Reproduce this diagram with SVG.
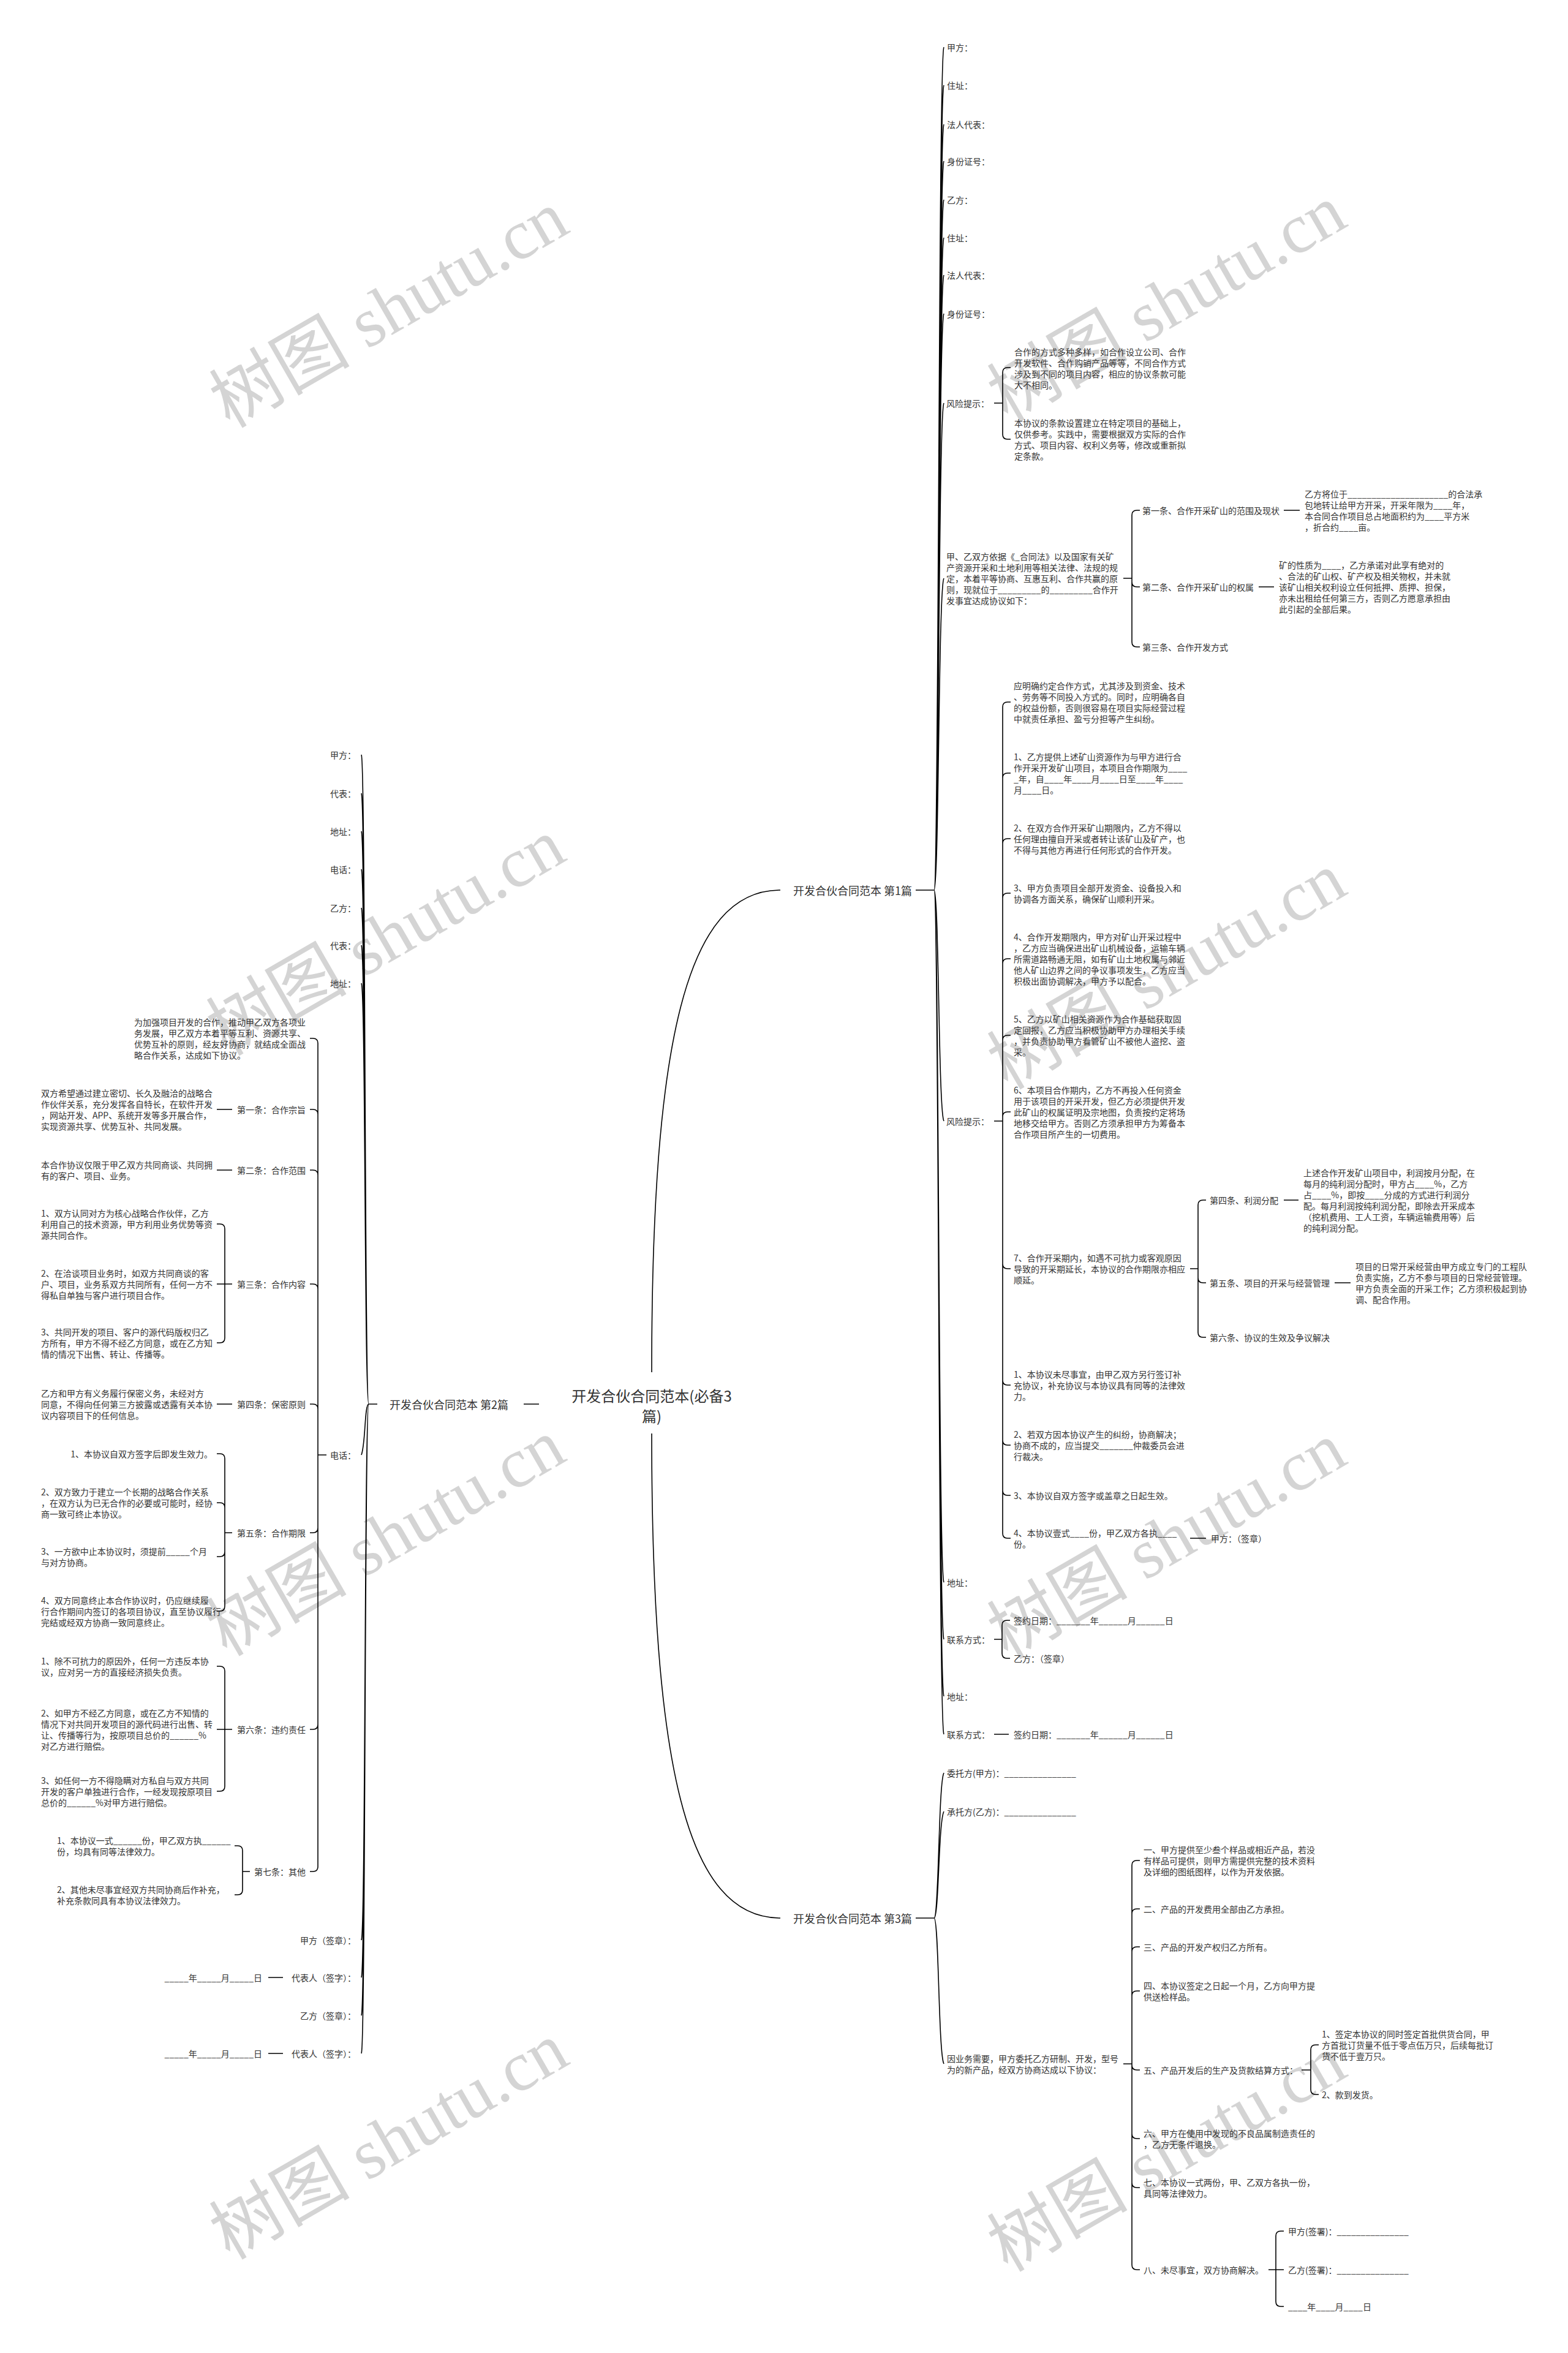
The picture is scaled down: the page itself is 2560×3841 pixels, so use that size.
<svg xmlns="http://www.w3.org/2000/svg" width="2560" height="3841" viewBox="0 0 2560 3841">
<style>
text{font-family:"Noto Sans CJK SC","Noto Sans",sans-serif;font-size:14px;fill:#333;dominant-baseline:central}
tspan{dominant-baseline:central}
.b{font-size:18px}
.r{font-size:24px}
.e{text-anchor:end}
.m{text-anchor:middle}
.c{fill:none;stroke:#000;stroke-width:1.6}
.w{font-family:"Liberation Serif","Noto Sans CJK SC",serif;font-size:115px;fill:#d4d4d4;dominant-baseline:alphabetic}
</style>
<rect width="2560" height="3841" fill="#fff"/>
<g id="watermarks">
<text class="w" x="375" y="700" transform="rotate(-30 375 700)">树图 shutu.cn</text>
<text class="w" x="370" y="1725" transform="rotate(-30 370 1725)">树图 shutu.cn</text>
<text class="w" x="370" y="2705" transform="rotate(-30 370 2705)">树图 shutu.cn</text>
<text class="w" x="375" y="3690" transform="rotate(-30 375 3690)">树图 shutu.cn</text>
<text class="w" x="1645" y="690" transform="rotate(-30 1645 690)">树图 shutu.cn</text>
<text class="w" x="1645" y="1780" transform="rotate(-30 1645 1780)">树图 shutu.cn</text>
<text class="w" x="1645" y="2710" transform="rotate(-30 1645 2710)">树图 shutu.cn</text>
<text class="w" x="1645" y="3710" transform="rotate(-30 1645 3710)">树图 shutu.cn</text>
</g>
<g id="connectors">
<path class="c" d="M855 2292H880M1064 2240C1064 1700 1120 1453 1274 1453M1064 2340C1064 2880 1120 3131 1274 3131"/>
<path class="c" d="M1495 1453H1525M1525 1453C1533 1453 1532 95 1541 77M1525 1453C1533 1453 1532 157 1541 139M1525 1453C1533 1453 1532 221 1541 203M1525 1453C1533 1453 1532 281 1541 263M1525 1453C1533 1453 1532 344 1541 326M1525 1453C1533 1453 1532 406 1541 388M1525 1453C1533 1453 1532 467 1541 449M1525 1453C1533 1453 1532 530 1541 512M1525 1453C1533 1453 1532 676 1541 658M1525 1453C1533 1453 1532 962 1541 944M1525 1453C1533 1453 1532 1812 1541 1830M1525 1453C1533 1453 1532 2565 1541 2583M1525 1453C1533 1453 1532 2658 1541 2676M1525 1453C1533 1453 1532 2751 1541 2769M1525 1453C1533 1453 1532 2813 1541 2831"/>
<path class="c" d="M1495 3131H1525M1525 3131C1533 3131 1532 2912 1541 2894M1525 3131C1533 3131 1532 2975 1541 2957M1525 3131C1533 3131 1532 3351 1541 3369"/>
<path class="c" d="M616 2292H602M602 2292C595 2292 597 1250 590 1232M602 2292C595 2292 597 1313 590 1295M602 2292C595 2292 597 1375 590 1357M602 2292C595 2292 597 1437 590 1419M602 2292C595 2292 597 1500 590 1482M602 2292C595 2292 597 1561 590 1543M602 2292C595 2292 597 1623 590 1605M602 2292C595 2292 597 2357 590 2375M602 2292C595 2292 597 3149 590 3167M602 2292C595 2292 597 3210 590 3228M602 2292C595 2292 597 3272 590 3290M602 2292C595 2292 597 3334 590 3352"/>
<path class="c" d="M1623 658H1637M1637 658V608Q1637 600 1645 600H1650M1637 658V709Q1637 717 1645 717H1650"/>
<path class="c" d="M1834 944H1848M1848 944V841Q1848 833 1856 833H1861M1848 944V950Q1848 958 1856 958H1861M1848 944V1048Q1848 1056 1856 1056H1861M2096 833H2122M2055 958H2080"/>
<path class="c" d="M1623 1830H1637M1637 1830V1154Q1637 1146 1645 1146H1650M1637 1830V1270Q1637 1262 1645 1262H1650M1637 1830V1377Q1637 1369 1645 1369H1650M1637 1830V1466Q1637 1458 1645 1458H1650M1637 1830V1573Q1637 1565 1645 1565H1650M1637 1830V1698Q1637 1690 1645 1690H1650M1637 1830V1823Q1637 1815 1645 1815H1650M1637 1830V2063Q1637 2071 1645 2071H1650M1637 1830V2253Q1637 2261 1645 2261H1650M1637 1830V2351Q1637 2359 1645 2359H1650M1637 1830V2433Q1637 2441 1645 2441H1650M1637 1830V2503Q1637 2511 1645 2511H1650"/>
<path class="c" d="M1943 2071H1956M1956 2071V1967Q1956 1959 1964 1959H1969M1956 2071V2086Q1956 2094 1964 2094H1969M1956 2071V2175Q1956 2183 1964 2183H1969M2096 1959H2120M2179 2094H2205M1943 2511H1969"/>
<path class="c" d="M1623 2676H1636M1636 2676V2653Q1636 2645 1644 2645H1649M1636 2676V2699Q1636 2707 1644 2707H1649M1623 2831H1647"/>
<path class="c" d="M1834 3369H1848M1848 3369V3045Q1848 3037 1856 3037H1861M1848 3369V3124Q1848 3116 1856 3116H1861M1848 3369V3186Q1848 3178 1856 3178H1861M1848 3369V3258Q1848 3250 1856 3250H1861M1848 3369V3371Q1848 3379 1856 3379H1861M1848 3369V3483Q1848 3491 1856 3491H1861M1848 3369V3563Q1848 3571 1856 3571H1861M1848 3369V3697Q1848 3705 1856 3705H1861"/>
<path class="c" d="M2125 3379H2140M2140 3379V3346Q2140 3338 2148 3338H2153M2140 3379V3411Q2140 3419 2148 3419H2153M2071 3705H2096M2083 3705V3650Q2083 3642 2091 3642H2096M2083 3705V3757Q2083 3765 2091 3765H2096"/>
<path class="c" d="M533 2375H519M519 2375V1703Q519 1695 511 1695H506M519 2375V1819Q519 1811 511 1811H506M519 2375V1918Q519 1910 511 1910H506M519 2375V2104Q519 2096 511 2096H506M519 2375V2300Q519 2292 511 2292H506M519 2375V2494Q519 2502 511 2502H506M519 2375V2815Q519 2823 511 2823H506M519 2375V3047Q519 3055 511 3055H506"/>
<path class="c" d="M379 1811H354M379 1910H354M379 2292H354M379 2096H354M367 2096V2006Q367 1998 359 1998H354M367 2096V2184Q367 2192 359 2192H354"/>
<path class="c" d="M379 2502H367M367 2502V2381Q367 2373 359 2373H354M367 2502V2461Q367 2453 359 2453H354M367 2502V2533Q367 2541 359 2541H354M367 2502V2622Q367 2630 359 2630H354"/>
<path class="c" d="M379 2823H354M367 2823V2728Q367 2720 359 2720H354M367 2823V2916Q367 2924 359 2924H354"/>
<path class="c" d="M408 3055H396M396 3055V3021Q396 3013 388 3013H383M396 3055V3085Q396 3093 388 3093H383M462 3228H438M462 3352H438"/>
</g>
<g id="root"><text class="r m" x="1064"><tspan x="1064" y="2277">开发合伙合同范本(必备3</tspan><tspan x="1064" y="2310">篇)</tspan></text></g>
<g id="b1"><text class="b" x="1295" y="1453">开发合伙合同范本 第1篇</text></g>
<g id="b2"><text class="b" x="636" y="2292">开发合伙合同范本 第2篇</text></g>
<g id="b3"><text class="b" x="1295" y="3131">开发合伙合同范本 第3篇</text></g>
<g id="p1-parties">
<text x="1546" y="77">甲方：</text>
<text x="1546" y="139">住址：</text>
<text x="1546" y="203">法人代表：</text>
<text x="1546" y="263">身份证号：</text>
<text x="1546" y="326">乙方：</text>
<text x="1546" y="388">住址：</text>
<text x="1546" y="449">法人代表：</text>
<text x="1546" y="512">身份证号：</text>
</g>
<g id="p1-risk1">
<text x="1545" y="658">风险提示：</text>
<text><tspan x="1656" y="574">合作的方式多种多样，如合作设立公司、合作</tspan><tspan x="1656" y="592">开发软件、合作购销产品等等，不同合作方式</tspan><tspan x="1656" y="610">涉及到不同的项目内容，相应的协议条款可能</tspan><tspan x="1656" y="628">大不相同。</tspan></text>
<text><tspan x="1656" y="690">本协议的条款设置建立在特定项目的基础上，</tspan><tspan x="1656" y="708">仅供参考。实践中，需要根据双方实际的合作</tspan><tspan x="1656" y="726">方式、项目内容、权利义务等，修改或重新拟</tspan><tspan x="1656" y="744">定条款。</tspan></text>
</g>
<g id="p1-intro">
<text><tspan x="1545" y="908">甲、乙双方依据《_合同法》以及国家有关矿</tspan><tspan x="1545" y="926">产资源开采和土地利用等相关法律、法规的规</tspan><tspan x="1545" y="944">定，本着平等协商、互惠互利、合作共赢的原</tspan><tspan x="1545" y="962">则，现就位于_________的_________合作开</tspan><tspan x="1545" y="980">发事宜达成协议如下：</tspan></text>
<text x="1865" y="833">第一条、合作开采矿山的范围及现状</text>
<text><tspan x="2130" y="806">乙方将位于_____________________的合法承</tspan><tspan x="2130" y="824">包地转让给甲方开采，开采年限为____年，</tspan><tspan x="2130" y="842">本合同合作项目总占地面积约为____平方米</tspan><tspan x="2130" y="860">，折合约____亩。</tspan></text>
<text x="1865" y="958">第二条、合作开采矿山的权属</text>
<text><tspan x="2088" y="922">矿的性质为____，乙方承诺对此享有绝对的</tspan><tspan x="2088" y="940">、合法的矿山权、矿产权及相关物权，并未就</tspan><tspan x="2088" y="958">该矿山相关权利设立任何抵押、质押、担保，</tspan><tspan x="2088" y="976">亦未出租给任何第三方，否则乙方愿意承担由</tspan><tspan x="2088" y="994">此引起的全部后果。</tspan></text>
<text x="1865" y="1056">第三条、合作开发方式</text>
</g>
<g id="p1-risk2">
<text x="1545" y="1830">风险提示：</text>
<text><tspan x="1655" y="1119">应明确约定合作方式，尤其涉及到资金、技术</tspan><tspan x="1655" y="1137">、劳务等不同投入方式的。同时，应明确各自</tspan><tspan x="1655" y="1155">的权益份额，否则很容易在项目实际经营过程</tspan><tspan x="1655" y="1173">中就责任承担、盈亏分担等产生纠纷。</tspan></text>
<text><tspan x="1655" y="1235">1、乙方提供上述矿山资源作为与甲方进行合</tspan><tspan x="1655" y="1253">作开采开发矿山项目，本项目合作期限为____</tspan><tspan x="1655" y="1271">_年，自____年____月____日至____年____</tspan><tspan x="1655" y="1289">月____日。</tspan></text>
<text><tspan x="1655" y="1351">2、在双方合作开采矿山期限内，乙方不得以</tspan><tspan x="1655" y="1369">任何理由擅自开采或者转让该矿山及矿产，也</tspan><tspan x="1655" y="1387">不得与其他方再进行任何形式的合作开发。</tspan></text>
<text><tspan x="1655" y="1449">3、甲方负责项目全部开发资金、设备投入和</tspan><tspan x="1655" y="1467">协调各方面关系，确保矿山顺利开采。</tspan></text>
<text><tspan x="1655" y="1529">4、合作开发期限内，甲方对矿山开采过程中</tspan><tspan x="1655" y="1547">，乙方应当确保进出矿山机械设备，运输车辆</tspan><tspan x="1655" y="1565">所需道路畅通无阻，如有矿山土地权属与邻近</tspan><tspan x="1655" y="1583">他人矿山边界之间的争议事项发生，乙方应当</tspan><tspan x="1655" y="1601">积极出面协调解决，甲方予以配合。</tspan></text>
<text><tspan x="1655" y="1663">5、乙方以矿山相关资源作为合作基础获取固</tspan><tspan x="1655" y="1681">定回报，乙方应当积极协助甲方办理相关手续</tspan><tspan x="1655" y="1699">，并负责协助甲方看管矿山不被他人盗挖、盗</tspan><tspan x="1655" y="1717">采。</tspan></text>
<text><tspan x="1655" y="1779">6、本项目合作期内，乙方不再投入任何资金</tspan><tspan x="1655" y="1797">用于该项目的开采开发，但乙方必须提供开发</tspan><tspan x="1655" y="1815">此矿山的权属证明及宗地图，负责按约定将场</tspan><tspan x="1655" y="1833">地移交给甲方。否则乙方须承担甲方为筹备本</tspan><tspan x="1655" y="1851">合作项目所产生的一切费用。</tspan></text>
<text><tspan x="1655" y="2053">7、合作开采期内，如遇不可抗力或客观原因</tspan><tspan x="1655" y="2071">导致的开采期延长，本协议的合作期限亦相应</tspan><tspan x="1655" y="2089">顺延。</tspan></text>
<text x="1975" y="1959">第四条、利润分配</text>
<text><tspan x="2128" y="1914">上述合作开发矿山项目中，利润按月分配，在</tspan><tspan x="2128" y="1932">每月的纯利润分配时，甲方占____%，乙方</tspan><tspan x="2128" y="1950">占____%，即按____分成的方式进行利润分</tspan><tspan x="2128" y="1968">配。每月利润按纯利润分配，即除去开采成本</tspan><tspan x="2128" y="1986">（挖机费用、工人工资，车辆运输费用等）后</tspan><tspan x="2128" y="2004">的纯利润分配。</tspan></text>
<text x="1975" y="2094">第五条、项目的开采与经营管理</text>
<text><tspan x="2213" y="2067">项目的日常开采经营由甲方成立专门的工程队</tspan><tspan x="2213" y="2085">负责实施，乙方不参与项目的日常经营管理。</tspan><tspan x="2213" y="2103">甲方负责全面的开采工作；乙方须积极起到协</tspan><tspan x="2213" y="2121">调、配合作用。</tspan></text>
<text x="1975" y="2183">第六条、协议的生效及争议解决</text>
<text><tspan x="1655" y="2243">1、本协议未尽事宜，由甲乙双方另行签订补</tspan><tspan x="1655" y="2261">充协议，补充协议与本协议具有同等的法律效</tspan><tspan x="1655" y="2279">力。</tspan></text>
<text><tspan x="1655" y="2341">2、若双方因本协议产生的纠纷，协商解决；</tspan><tspan x="1655" y="2359">协商不成的，应当提交_______仲裁委员会进</tspan><tspan x="1655" y="2377">行裁决。</tspan></text>
<text x="1655" y="2441">3、本协议自双方签字或盖章之日起生效。</text>
<text><tspan x="1655" y="2502">4、本协议壹式____份，甲乙双方各执____</tspan><tspan x="1655" y="2520">份。</tspan></text>
<text x="1977" y="2511">甲方：（签章）</text>
</g>
<g id="p1-contact">
<text x="1546" y="2583">地址：</text>
<text x="1546" y="2676">联系方式：</text>
<text x="1655" y="2645">签约日期：_______年______月______日</text>
<text x="1655" y="2707">乙方：（签章）</text>
<text x="1546" y="2769">地址：</text>
<text x="1546" y="2831">联系方式：</text>
<text x="1655" y="2831">签约日期：_______年______月______日</text>
</g>
<g id="p3">
<text x="1546" y="2894">委托方(甲方)：_______________</text>
<text x="1546" y="2957">承托方(乙方)：_______________</text>
<text><tspan x="1546" y="3360">因业务需要，甲方委托乙方研制、开发，型号</tspan><tspan x="1546" y="3378">为的新产品，经双方协商达成以下协议：</tspan></text>
<text><tspan x="1867" y="3019">一、甲方提供至少叁个样品或相近产品，若没</tspan><tspan x="1867" y="3037">有样品可提供，则甲方需提供完整的技术资料</tspan><tspan x="1867" y="3055">及详细的图纸图样，以作为开发依据。</tspan></text>
<text x="1867" y="3116">二、产品的开发费用全部由乙方承担。</text>
<text x="1867" y="3178">三、产品的开发产权归乙方所有。</text>
<text><tspan x="1867" y="3241">四、本协议签定之日起一个月，乙方向甲方提</tspan><tspan x="1867" y="3259">供送检样品。</tspan></text>
<text x="1867" y="3379">五、产品开发后的生产及货款结算方式：</text>
<text><tspan x="2158" y="3320">1、签定本协议的同时签定首批供货合同，甲</tspan><tspan x="2158" y="3338">方首批订货量不低于零点伍万只，后续每批订</tspan><tspan x="2158" y="3356">货不低于壹万只。</tspan></text>
<text x="2158" y="3419">2、款到发货。</text>
<text><tspan x="1867" y="3482">六、甲方在使用中发现的不良品属制造责任的</tspan><tspan x="1867" y="3500">，乙方无条件退换。</tspan></text>
<text><tspan x="1867" y="3562">七、本协议一式两份，甲、乙双方各执一份，</tspan><tspan x="1867" y="3580">具同等法律效力。</tspan></text>
<text x="1867" y="3705">八、未尽事宜，双方协商解决。</text>
<text x="2103" y="3642">甲方(签署)：_______________</text>
<text x="2103" y="3705">乙方(签署)：_______________</text>
<text x="2103" y="3765">____年____月____日</text>
</g>
<g id="p2-parties">
<text class="e" x="581" y="1232">甲方：</text>
<text class="e" x="581" y="1295">代表：</text>
<text class="e" x="581" y="1357">地址：</text>
<text class="e" x="581" y="1419">电话：</text>
<text class="e" x="581" y="1482">乙方：</text>
<text class="e" x="581" y="1543">代表：</text>
<text class="e" x="581" y="1605">地址：</text>
<text class="e" x="581" y="2375">电话：</text>
</g>
<g id="p2-body">
<text><tspan x="219" y="1668">为加强项目开发的合作，推动甲乙双方各项业</tspan><tspan x="219" y="1686">务发展，甲乙双方本着平等互利、资源共享、</tspan><tspan x="219" y="1704">优势互补的原则，经友好协商，就结成全面战</tspan><tspan x="219" y="1722">略合作关系，达成如下协议。</tspan></text>
<text class="e" x="499" y="1811">第一条：合作宗旨</text>
<text><tspan x="67" y="1784">双方希望通过建立密切、长久及融洽的战略合</tspan><tspan x="67" y="1802">作伙伴关系，充分发挥各自特长，在软件开发</tspan><tspan x="67" y="1820">，网站开发、APP、系统开发等多开展合作，</tspan><tspan x="67" y="1838">实现资源共享、优势互补、共同发展。</tspan></text>
<text class="e" x="499" y="1910">第二条：合作范围</text>
<text><tspan x="67" y="1901">本合作协议仅限于甲乙双方共同商谈、共同拥</tspan><tspan x="67" y="1919">有的客户、项目、业务。</tspan></text>
<text class="e" x="499" y="2096">第三条：合作内容</text>
<text><tspan x="67" y="1980">1、双方认同对方为核心战略合作伙伴，乙方</tspan><tspan x="67" y="1998">利用自己的技术资源，甲方利用业务优势等资</tspan><tspan x="67" y="2016">源共同合作。</tspan></text>
<text><tspan x="67" y="2078">2、在洽谈项目业务时，如双方共同商谈的客</tspan><tspan x="67" y="2096">户、项目，业务系双方共同所有，任何一方不</tspan><tspan x="67" y="2114">得私自单独与客户进行项目合作。</tspan></text>
<text><tspan x="67" y="2174">3、共同开发的项目、客户的源代码版权归乙</tspan><tspan x="67" y="2192">方所有，甲方不得不经乙方同意，或在乙方知</tspan><tspan x="67" y="2210">情的情况下出售、转让、传播等。</tspan></text>
<text class="e" x="499" y="2292">第四条：保密原则</text>
<text><tspan x="67" y="2274">乙方和甲方有义务履行保密义务，未经对方</tspan><tspan x="67" y="2292">同意，不得向任何第三方披露或透露有关本协</tspan><tspan x="67" y="2310">议内容项目下的任何信息。</tspan></text>
<text class="e" x="499" y="2502">第五条：合作期限</text>
<text class="e" x="347" y="2373">1、本协议自双方签字后即发生效力。</text>
<text><tspan x="67" y="2435">2、双方致力于建立一个长期的战略合作关系</tspan><tspan x="67" y="2453">，在双方认为已无合作的必要或可能时，经协</tspan><tspan x="67" y="2471">商一致可终止本协议。</tspan></text>
<text><tspan x="67" y="2532">3、一方欲中止本协议时，须提前_____个月</tspan><tspan x="67" y="2550">与对方协商。</tspan></text>
<text><tspan x="67" y="2612">4、双方同意终止本合作协议时，仍应继续履</tspan><tspan x="67" y="2630">行合作期间内签订的各项目协议，直至协议履行</tspan><tspan x="67" y="2648">完结或经双方协商一致同意终止。</tspan></text>
<text class="e" x="499" y="2823">第六条：违约责任</text>
<text><tspan x="67" y="2711">1、除不可抗力的原因外，任何一方违反本协</tspan><tspan x="67" y="2729">议，应对另一方的直接经济损失负责。</tspan></text>
<text><tspan x="67" y="2796">2、如甲方不经乙方同意，或在乙方不知情的</tspan><tspan x="67" y="2814">情况下对共同开发项目的源代码进行出售、转</tspan><tspan x="67" y="2832">让、传播等行为，按原项目总价的______%</tspan><tspan x="67" y="2850">对乙方进行赔偿。</tspan></text>
<text><tspan x="67" y="2906">3、如任何一方不得隐瞒对方私自与双方共同</tspan><tspan x="67" y="2924">开发的客户单独进行合作，一经发现按原项目</tspan><tspan x="67" y="2942">总价的______%对甲方进行赔偿。</tspan></text>
<text class="e" x="499" y="3055">第七条：其他</text>
<text><tspan x="93" y="3004">1、本协议一式______份，甲乙双方执______</tspan><tspan x="93" y="3022">份，均具有同等法律效力。</tspan></text>
<text><tspan x="93" y="3084">2、其他未尽事宜经双方共同协商后作补充，</tspan><tspan x="93" y="3102">补充条款同具有本协议法律效力。</tspan></text>
</g>
<g id="p2-sign">
<text class="e" x="581" y="3167">甲方（签章）：</text>
<text class="e" x="581" y="3228">代表人（签字）：</text>
<text class="e" x="428" y="3228">_____年_____月_____日</text>
<text class="e" x="581" y="3290">乙方（签章）：</text>
<text class="e" x="581" y="3352">代表人（签字）：</text>
<text class="e" x="428" y="3352">_____年_____月_____日</text>
</g>
</svg>
